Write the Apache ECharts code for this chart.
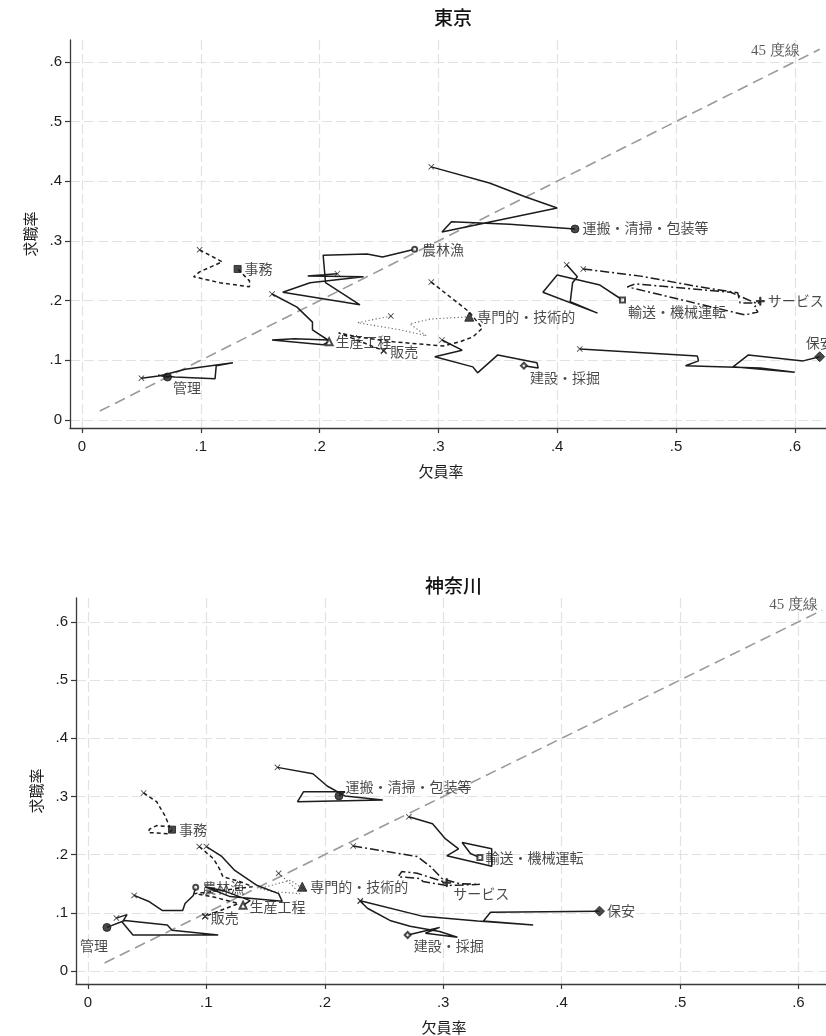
<!DOCTYPE html>
<html>
<head>
<meta charset="utf-8">
<script src="https://cdn.jsdelivr.net/npm/echarts@6/dist/echarts.min.js"></script>
<style>
  html, body { margin: 0; padding: 0; background: #fff; }
  #chart { width: 826px; height: 1036px; }
</style>
</head>
<body>
<div id="chart"></div>
<script>
// Occupation groups (same order for both prefectures)
const occupations = ['管理', '専門的・技術的', '事務', '販売', 'サービス', '保安',
  '農林漁', '生産工程', '輸送・機械運転', '建設・採掘', '運搬・清掃・包装等'];
const panelTitles = ['東京', '神奈川'];
const tickValues = [0, 0.1, 0.2, 0.3, 0.4, 0.5, 0.6];

// Trajectories: [欠員率, 求職率], first point = start, last point = latest
// 東京
const tkKanri    = [[0.050,0.070],[0.066,0.074],[0.087,0.085],[0.127,0.096],[0.113,0.091],[0.112,0.069],[0.078,0.072],[0.064,0.075],[0.072,0.072]];
const tkSenmon   = [[0.260,0.174],[0.232,0.163],[0.268,0.151],[0.290,0.141],[0.276,0.161],[0.293,0.169],[0.326,0.173]];
const tkJimu     = [[0.099,0.285],[0.118,0.265],[0.099,0.248],[0.094,0.240],[0.116,0.230],[0.141,0.223],[0.141,0.233],[0.131,0.253]];
const tkHanbai   = [[0.294,0.231],[0.326,0.181],[0.337,0.154],[0.329,0.139],[0.318,0.131],[0.304,0.124],[0.262,0.131],[0.232,0.139],[0.216,0.146],[0.254,0.116]];
const tkService  = [[0.422,0.253],[0.470,0.241],[0.520,0.223],[0.552,0.213],[0.554,0.196],[0.567,0.196],[0.546,0.214],[0.466,0.228],[0.459,0.223],[0.558,0.176],[0.569,0.181],[0.566,0.189],[0.571,0.199]];
const tkHoan     = [[0.419,0.119],[0.518,0.107],[0.519,0.099],[0.508,0.091],[0.571,0.087],[0.600,0.080],[0.548,0.089],[0.561,0.109],[0.607,0.099],[0.621,0.106]];
const tkNourin   = [[0.215,0.245],[0.190,0.241],[0.237,0.240],[0.192,0.230],[0.169,0.214],[0.234,0.193],[0.205,0.230],[0.203,0.276],[0.240,0.278],[0.253,0.273],[0.280,0.286]];
const tkSeisan   = [[0.160,0.211],[0.181,0.189],[0.194,0.164],[0.194,0.151],[0.207,0.134],[0.179,0.136],[0.160,0.134],[0.203,0.126],[0.208,0.131]];
const tkYusou    = [[0.408,0.260],[0.417,0.240],[0.413,0.230],[0.411,0.198],[0.434,0.179],[0.388,0.214],[0.400,0.243],[0.436,0.226],[0.455,0.201]];
const tkKensetsu = [[0.303,0.134],[0.320,0.117],[0.297,0.106],[0.329,0.089],[0.333,0.079],[0.350,0.109],[0.383,0.096],[0.384,0.087],[0.372,0.091]];
const tkUnpan    = [[0.294,0.424],[0.343,0.397],[0.373,0.374],[0.400,0.355],[0.303,0.315],[0.311,0.332],[0.360,0.328],[0.415,0.320]];

// 神奈川
const knKanri    = [[0.024,0.091],[0.033,0.097],[0.029,0.084],[0.038,0.062],[0.110,0.062],[0.071,0.070],[0.067,0.079],[0.031,0.087],[0.016,0.075]];
const knSenmon   = [[0.161,0.168],[0.171,0.150],[0.179,0.133],[0.154,0.137],[0.145,0.142],[0.171,0.156],[0.185,0.137],[0.181,0.145]];
const knJimu     = [[0.047,0.306],[0.058,0.291],[0.065,0.267],[0.069,0.248],[0.058,0.250],[0.052,0.244],[0.051,0.238],[0.068,0.236],[0.071,0.243]];
const knHanbai   = [[0.094,0.214],[0.106,0.193],[0.111,0.176],[0.114,0.162],[0.128,0.154],[0.139,0.145],[0.090,0.133],[0.107,0.127],[0.127,0.116],[0.099,0.094]];
const knService  = [[0.224,0.215],[0.247,0.207],[0.278,0.197],[0.289,0.180],[0.299,0.159],[0.314,0.150],[0.331,0.149],[0.303,0.147],[0.283,0.154],[0.280,0.159],[0.262,0.162],[0.265,0.171],[0.278,0.168],[0.303,0.152]];
const knHoan     = [[0.230,0.121],[0.283,0.094],[0.329,0.086],[0.376,0.079],[0.334,0.086],[0.340,0.101],[0.432,0.103]];
const knNourin   = [[0.039,0.130],[0.051,0.120],[0.063,0.104],[0.080,0.104],[0.082,0.116],[0.089,0.130],[0.091,0.144]];
const knSeisan   = [[0.100,0.214],[0.113,0.197],[0.124,0.173],[0.143,0.147],[0.161,0.133],[0.164,0.120],[0.120,0.128],[0.099,0.145],[0.116,0.137],[0.137,0.121],[0.131,0.113]];
const knYusou    = [[0.271,0.265],[0.291,0.253],[0.302,0.227],[0.313,0.210],[0.303,0.198],[0.341,0.180],[0.341,0.210],[0.316,0.221],[0.323,0.202],[0.331,0.195]];
const knKensetsu = [[0.230,0.120],[0.236,0.108],[0.255,0.087],[0.272,0.077],[0.297,0.068],[0.312,0.058],[0.285,0.065],[0.297,0.075],[0.270,0.062]];
const knUnpan    = [[0.160,0.350],[0.190,0.339],[0.202,0.318],[0.217,0.301],[0.249,0.294],[0.177,0.291],[0.182,0.308],[0.217,0.308],[0.212,0.301]];

// 45 度線 endpoints
const diagonalTokyo = [[0.015, 0.015], [0.621, 0.621]];
const diagonalKanagawa = [[0.014, 0.014], [0.620, 0.620]];

const tokyoPaths = [tkKanri, tkSenmon, tkJimu, tkHanbai, tkService, tkHoan, tkNourin, tkSeisan, tkYusou, tkKensetsu, tkUnpan];
const kanagawaPaths = [knKanri, knSenmon, knJimu, knHanbai, knService, knHoan, knNourin, knSeisan, knYusou, knKensetsu, knUnpan];

// ---- styling ----
const CJK = "'Noto Sans CJK JP', 'Noto Sans', sans-serif";
const NARROW = "'Liberation Sans Narrow', 'Liberation Sans', Arial, sans-serif";
const INK = '#1c1c1c';
const X_MARK = 'path://M1,0L5,4L9,0L10,1L6,5L10,9L9,10L5,6L1,10L0,9L4,5L0,1Z';
const PLUS_MARK = 'path://M4.2,0H5.8V4.2H10V5.8H5.8V10H4.2V5.8H0V4.2H4.2Z';

const lineTypes = {
  '管理': 'solid', '専門的・技術的': [1.2, 2.4], '事務': [4, 3], '販売': [4, 3],
  'サービス': [9, 3, 2, 3], '保安': 'solid', '農林漁': 'solid', '生産工程': 'solid',
  '輸送・機械運転': 'solid', '建設・採掘': 'solid', '運搬・清掃・包装等': 'solid'
};
const endSymbols = {
  '管理': ['circle', 8], '専門的・技術的': ['triangle', 9], '事務': ['rect', 7],
  '販売': [X_MARK, 6], 'サービス': [PLUS_MARK, 8], '保安': ['diamond', 10],
  '農林漁': ['emptyCircle', 5], '生産工程': ['emptyTriangle', 7], '輸送・機械運転': ['emptyRect', 5],
  '建設・採掘': ['emptyDiamond', 6], '運搬・清掃・包装等': ['circle', 8]
};
// label placement: [position, distance, offsetX, offsetY]
const labelPlacement = [
  {
    '管理': ['right', 3, -2, 11], '専門的・技術的': ['right', 3, 0, 0], '事務': ['right', 3, 0, 0],
    '販売': ['right', 3, 0, 1], 'サービス': ['right', 3, 0, -1], '保安': ['top', 2, 0, 0],
    '農林漁': ['right', 4, 0, 0], '生産工程': ['right', 2, 0, 0], '輸送・機械運転': ['right', 2, 0, 12],
    '建設・採掘': ['right', 2, 0, 12], '運搬・清掃・包装等': ['right', 3, 0, -1]
  },
  {
    '管理': ['bottom', 3, -13, 4], '専門的・技術的': ['right', 3, 0, 0], '事務': ['right', 3, 0, 0],
    '販売': ['right', 2, 0, 1], 'サービス': ['right', 2, 0, 11], '保安': ['right', 2, 0, 0],
    '農林漁': ['right', 3, 0, 0], '生産工程': ['right', 2, 0, 1], '輸送・機械運転': ['right', 2, 0, 0],
    '建設・採掘': ['right', 2, 0, 11], '運搬・清掃・包装等': ['right', 2, 0, -9]
  }
];

const tickFormatter = v => (Math.abs(v) < 1e-9 ? '0' : String(Math.round(v * 10) / 10).replace(/^0/, ''));

function xAxisFor(gridIndex, min, max) {
  return {
    type: 'value', gridIndex, min, max,
    name: '欠員率', nameLocation: 'middle', nameGap: 36,
    nameTextStyle: { fontFamily: CJK, fontSize: 15, color: INK, padding: [0, 14, 0, 0] },
    axisLine: { show: true, onZero: false, lineStyle: { color: '#3a3a3a', width: 1.3 } },
    axisTick: { show: true, length: 5, customValues: tickValues, lineStyle: { color: '#3a3a3a', width: 1.2 } },
    axisLabel: { customValues: tickValues, formatter: tickFormatter, margin: 11,
      fontFamily: NARROW, fontSize: 15, color: INK },
    splitLine: { show: true, lineStyle: { color: '#e2e2e2', width: 1.2, type: [10, 4] } }
  };
}
function yAxisFor(gridIndex, min, max) {
  return {
    type: 'value', gridIndex, min, max,
    name: '求職率', nameLocation: 'middle', nameGap: 32, nameRotate: 90,
    nameTextStyle: { fontFamily: CJK, fontSize: 15, color: INK },
    axisLine: { show: true, onZero: false, lineStyle: { color: '#3a3a3a', width: 1.3 } },
    axisTick: { show: true, length: 5, customValues: tickValues, lineStyle: { color: '#3a3a3a', width: 1.2 } },
    axisLabel: { customValues: tickValues, formatter: tickFormatter, margin: 8,
      fontFamily: NARROW, fontSize: 15, color: INK },
    splitLine: { show: true, lineStyle: { color: '#e2e2e2', width: 1.2, type: [10, 4] } }
  };
}

const series = [];
function addPanel(p, paths, diagonal, diagLabel) {
  // 45 度線
  series.push({
    type: 'line', xAxisIndex: p, yAxisIndex: p, data: diagonal, symbol: 'none', silent: true, z: 1,
    lineStyle: { color: '#9a9a9a', width: 1.6, type: [11, 6] }
  });
  series.push({
    type: 'scatter', xAxisIndex: p, yAxisIndex: p, silent: true, z: 1, symbolSize: 0,
    data: [{ value: diagonal[1], label: {
      show: true, formatter: '45 度線', position: 'left', distance: diagLabel[0], offset: [0, diagLabel[1]],
      fontFamily: "'Liberation Serif', 'DejaVu Serif', serif", fontSize: 15, color: '#333' } }]
  });
  // trajectories
  occupations.forEach((occ, i) => {
    const t = lineTypes[occ];
    const dotted = occ === '専門的・技術的';
    series.push({
      type: 'line', xAxisIndex: p, yAxisIndex: p, data: paths[i], symbol: 'none', silent: true, z: 3,
      lineStyle: { color: dotted ? '#666' : INK, width: dotted ? 1.1 : 1.5, type: t }
    });
  });
  // start markers
  series.push({
    type: 'scatter', xAxisIndex: p, yAxisIndex: p, silent: true, z: 4,
    symbol: X_MARK, symbolSize: 6, itemStyle: { color: INK },
    data: paths.map(d => d[0])
  });
  // end markers with labels
  series.push({
    type: 'scatter', xAxisIndex: p, yAxisIndex: p, silent: true, z: 5,
    itemStyle: { color: INK, borderColor: INK },
    data: occupations.map((occ, i) => {
      const [pos, dist, ox, oy] = labelPlacement[p][occ];
      const [sym, size] = endSymbols[occ];
      return {
        value: paths[i][paths[i].length - 1], symbol: sym, symbolSize: size,
        label: { show: true, formatter: occ, position: pos, distance: dist, offset: [ox, oy],
          fontFamily: CJK, fontSize: 14, color: INK }
      };
    })
  });
}
addPanel(0, tokyoPaths, diagonalTokyo, [20, 2]);
addPanel(1, kanagawaPaths, diagonalKanagawa, [4, -5]);

const chart = echarts.init(document.getElementById('chart'), null, { renderer: 'canvas' });
chart.setOption({
  animation: false,
  backgroundColor: '#ffffff',
  title: [
    { text: panelTitles[0], left: 429, top: 3, textStyle: { fontFamily: CJK, fontSize: 19, fontWeight: 500, color: '#111' } },
    { text: panelTitles[1], left: 420, top: 571, textStyle: { fontFamily: CJK, fontSize: 19, fontWeight: 500, color: '#111' } }
  ],
  grid: [
    { left: 70, top: 40, width: 756, height: 388 },
    { left: 76, top: 598, width: 750, height: 388 }
  ],
  xAxis: [xAxisFor(0, -0.0101, 0.6263), xAxisFor(1, -0.0101, 0.6233)],
  yAxis: [yAxisFor(0, -0.0134, 0.6365), yAxisFor(1, -0.0222, 0.641)],
  series
});
</script>
</body>
</html>
